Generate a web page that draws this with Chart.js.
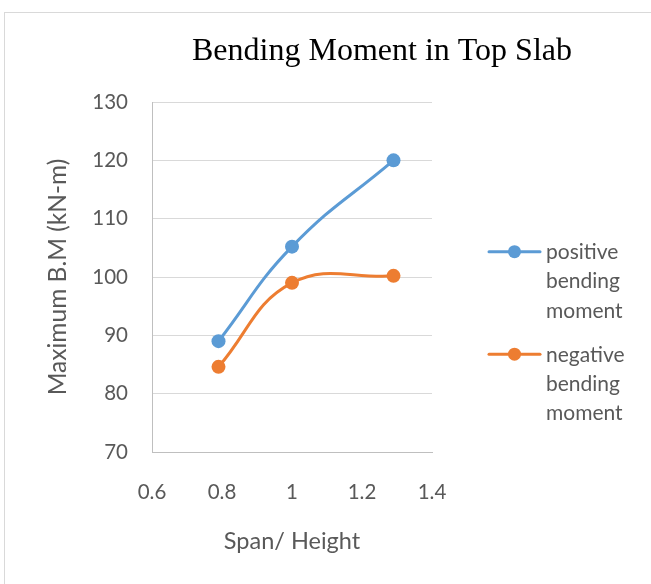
<!DOCTYPE html>
<html>
<head>
<meta charset="utf-8">
<script src="https://cdn.jsdelivr.net/npm/chart.js@4"></script>
<style>
  html, body { margin: 0; padding: 0; background: #fff; }
  #wrap { width: 651px; height: 584px; position: relative; }
</style>
</head>
<body>
<div id="wrap"><canvas id="c" width="651" height="584"></canvas></div>
<script>
const chartTitle = "Bending Moment in Top Slab";
const xTitle = "Span/ Height";
const yTitle = "Maximum B.M (kN-m)";
const spanHeight = [0.79, 1, 1.29];
const positiveBM = [89, 105.2, 120];
const negativeBM = [84.6, 99, 100.2];
const seriesNames = [["positive", "bending", "moment"], ["negative", "bending", "moment"]];
const xTicks = [0.6, 0.8, 1, 1.2, 1.4];
const yTicks = [70, 80, 90, 100, 110, 120, 130];

const textColor = "#595959";
const sansFont = "Lato, 'Open Sans', sans-serif";

function toPoints(xs, ys) { return xs.map((x, i) => ({ x: x, y: ys[i] })); }

const frameAndText = {
  id: "frameAndText",
  beforeDraw(chart) {
    const ctx = chart.ctx;
    ctx.save();
    ctx.fillStyle = "#fff";
    ctx.fillRect(0, 0, chart.width, chart.height);
    ctx.strokeStyle = "#D9D9D9";
    ctx.lineWidth = 1;
    ctx.strokeRect(4.5, 12.5, 700, 700);
    ctx.restore();
  },
  afterDraw(chart) {
    const ctx = chart.ctx;
    ctx.save();
    // title
    ctx.fillStyle = "#000";
    ctx.font = "32px 'Liberation Serif', 'Times New Roman', serif";
    ctx.textAlign = "center";
    ctx.textBaseline = "alphabetic";
    ctx.fillText(chartTitle, 382, 59.5);
    // legend
    const ds = chart.data.datasets;
    ctx.font = "21px " + sansFont;
    ctx.textAlign = "left";
    ds.forEach((d, i) => {
      const ly = 251.7 + i * 102.5;
      ctx.strokeStyle = d.borderColor;
      ctx.lineWidth = 3;
      ctx.lineCap = "round";
      ctx.beginPath();
      ctx.moveTo(489, ly);
      ctx.lineTo(540, ly);
      ctx.stroke();
      ctx.fillStyle = d.backgroundColor;
      ctx.beginPath();
      ctx.arc(514.5, ly, 6.5, 0, Math.PI * 2);
      ctx.fill();
      ctx.fillStyle = textColor;
      seriesNames[i].forEach((t, j) => {
        ctx.fillText(t, 546, ly + 7.3 + j * 29.3);
      });
    });
    ctx.restore();
  }
};

new Chart(document.getElementById("c"), {
  type: "scatter",
  data: {
    datasets: [
      {
        label: seriesNames[0].join(" "),
        data: toPoints(spanHeight, positiveBM),
        borderColor: "#5B9BD5",
        backgroundColor: "#5B9BD5",
        showLine: true,
        tension: 0.45,
        borderWidth: 3,
        pointRadius: 7,
        pointHoverRadius: 7,
        pointBorderWidth: 0
      },
      {
        label: seriesNames[1].join(" "),
        data: toPoints(spanHeight, negativeBM),
        borderColor: "#ED7D31",
        backgroundColor: "#ED7D31",
        showLine: true,
        tension: 0.42,
        borderWidth: 3,
        pointRadius: 7,
        pointHoverRadius: 7,
        pointBorderWidth: 0
      }
    ]
  },
  options: {
    responsive: false,
    animation: false,
    events: [],
    layout: { padding: { left: 0, top: 102, right: 219, bottom: 0 } },
    plugins: {
      legend: { display: false },
      title: { display: false },
      tooltip: { enabled: false }
    },
    scales: {
      x: {
        type: "linear",
        min: 0.6,
        max: 1.4,
        afterBuildTicks(scale) { scale.ticks = xTicks.map(v => ({ value: v })); },
        afterFit(scale) { scale.height = 132; },
        ticks: {
          color: textColor,
          font: { family: sansFont, size: 20.5 },
          padding: 28,
          maxRotation: 0,
          callback: (v) => String(v)
        },
        grid: { display: false, drawTicks: false },
        border: { display: true, color: "#BFBFBF", width: 1 },
        title: {
          display: true,
          text: xTitle,
          color: textColor,
          font: { family: sansFont, size: 23.5 },
          padding: { top: 0, bottom: 28.5 }
        }
      },
      y: {
        type: "linear",
        min: 70,
        max: 130,
        afterBuildTicks(scale) { scale.ticks = yTicks.map(v => ({ value: v })); },
        afterFit(scale) { scale.width = 152; },
        ticks: {
          color: textColor,
          font: { family: sansFont, size: 20.5 },
          padding: 24,
          callback: (v) => String(v)
        },
        grid: { color: "#D9D9D9", lineWidth: 1, drawTicks: false },
        border: { display: true, color: "#BFBFBF", width: 1 },
        title: {
          display: true,
          text: yTitle,
          color: textColor,
          font: { family: sansFont, size: 24.5 },
          padding: { top: 43, bottom: 0 }
        }
      }
    }
  },
  plugins: [frameAndText]
});
</script>
</body>
</html>
